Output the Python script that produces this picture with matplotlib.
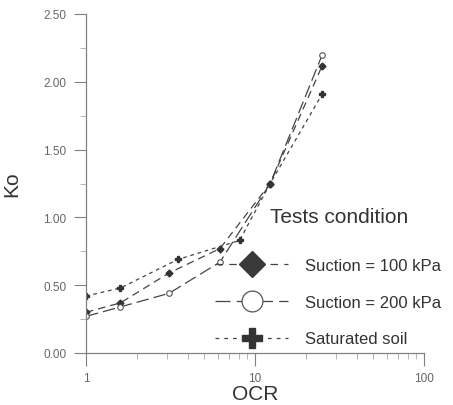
import matplotlib
matplotlib.use("Agg")
import matplotlib.pyplot as plt
from matplotlib.lines import Line2D
from matplotlib.ticker import LogLocator, MultipleLocator, FixedFormatter, FixedLocator

plt.rcParams["font.family"] = ["Liberation Sans", "DejaVu Sans"]

# datos
ocr_100 = [1.0, 1.6, 3.1, 6.2, 12.3, 25.0]
ko_100 = [0.30, 0.37, 0.59, 0.77, 1.25, 2.12]

ocr_200 = [1.0, 1.6, 3.1, 6.2, 12.3, 25.0]
ko_200 = [0.27, 0.34, 0.44, 0.67, 1.25, 2.20]

ocr_sat = [1.0, 1.6, 3.5, 8.1, 12.3, 25.0]
ko_sat = [0.42, 0.48, 0.69, 0.83, 1.25, 1.91]

etiquetas = ["Suction = 100 kPa", "Suction = 200 kPa", "Saturated soil"]
yticks = [0.0, 0.5, 1.0, 1.5, 2.0, 2.5]
xticks = [1, 10, 100]

gris = "#444444"
gris_eje = "#808080"

fig = plt.figure(figsize=(4.53, 4.06), dpi=100)
ax = fig.add_axes([86 / 453, 52 / 406, 338 / 453, 339 / 406])

ax.plot(ocr_100, ko_100, color=gris, lw=0.9, dashes=(6, 4),
        marker="D", ms=3.5, mfc="#333333", mec="#333333")
ax.plot(ocr_200, ko_200, color=gris, lw=0.9, dashes=(10, 4),
        marker="o", ms=4, mfc="white", mec="#555555", mew=0.8)
ax.plot(ocr_sat, ko_sat, color=gris, lw=0.9, dashes=(3, 3),
        marker="P", ms=4.5, mfc="#333333", mec="#333333")

ax.set_xscale("log")
ax.set_xlim(1, 100)
ax.set_ylim(0, 2.5)

ax.yaxis.set_major_locator(FixedLocator(yticks))
ax.yaxis.set_major_formatter(FixedFormatter(["%.2f" % v for v in yticks]))
ax.yaxis.set_minor_locator(MultipleLocator(0.25))
ax.xaxis.set_major_locator(FixedLocator(xticks))
ax.xaxis.set_major_formatter(FixedFormatter([str(v) for v in xticks]))
ax.xaxis.set_minor_locator(LogLocator(base=10, subs=range(2, 10)))

for s in ["top", "right"]:
    ax.spines[s].set_visible(False)
for s in ["left", "bottom"]:
    ax.spines[s].set_color(gris_eje)
    ax.spines[s].set_linewidth(0.9)

ax.tick_params(which="major", direction="out", length=9, width=0.8,
               color=gris_eje, labelsize=8.5, labelcolor="#666666", pad=5)
ax.tick_params(which="minor", direction="out", length=4, width=0.6,
               color="#aaaaaa")

ax.set_xlabel("OCR", fontsize=15, color="#333333", labelpad=0)
ax.set_ylabel("Ko", fontsize=15, color="#333333", labelpad=16)

handles = [
    Line2D([], [], color=gris, lw=0.9, dashes=(6, 5), marker="D", ms=13,
           mfc="#3a3a3a", mec="#3a3a3a"),
    Line2D([], [], color=gris, lw=0.9, dashes=(12, 5), marker="o", ms=15,
           mfc="white", mec="#555555", mew=0.9),
    Line2D([], [], color=gris, lw=0.9, dashes=(3, 4), marker="P", ms=15,
           mfc="#333333", mec="#333333"),
]
leg = fig.legend(handles, etiquetas,
                 loc="upper left", bbox_to_anchor=(215 / 453, 1 - 259 / 406),
                 frameon=False, fontsize=12,
                 handlelength=4.4, handletextpad=1.0, labelspacing=1.3,
                 borderpad=0, borderaxespad=0)
for t in leg.get_texts():
    t.set_color("#333333")

fig.text(339 / 453, 1 - 218 / 406, "Tests condition", fontsize=15,
         color="#333333", ha="center", va="center")

fig.savefig("out.png", dpi=100)
